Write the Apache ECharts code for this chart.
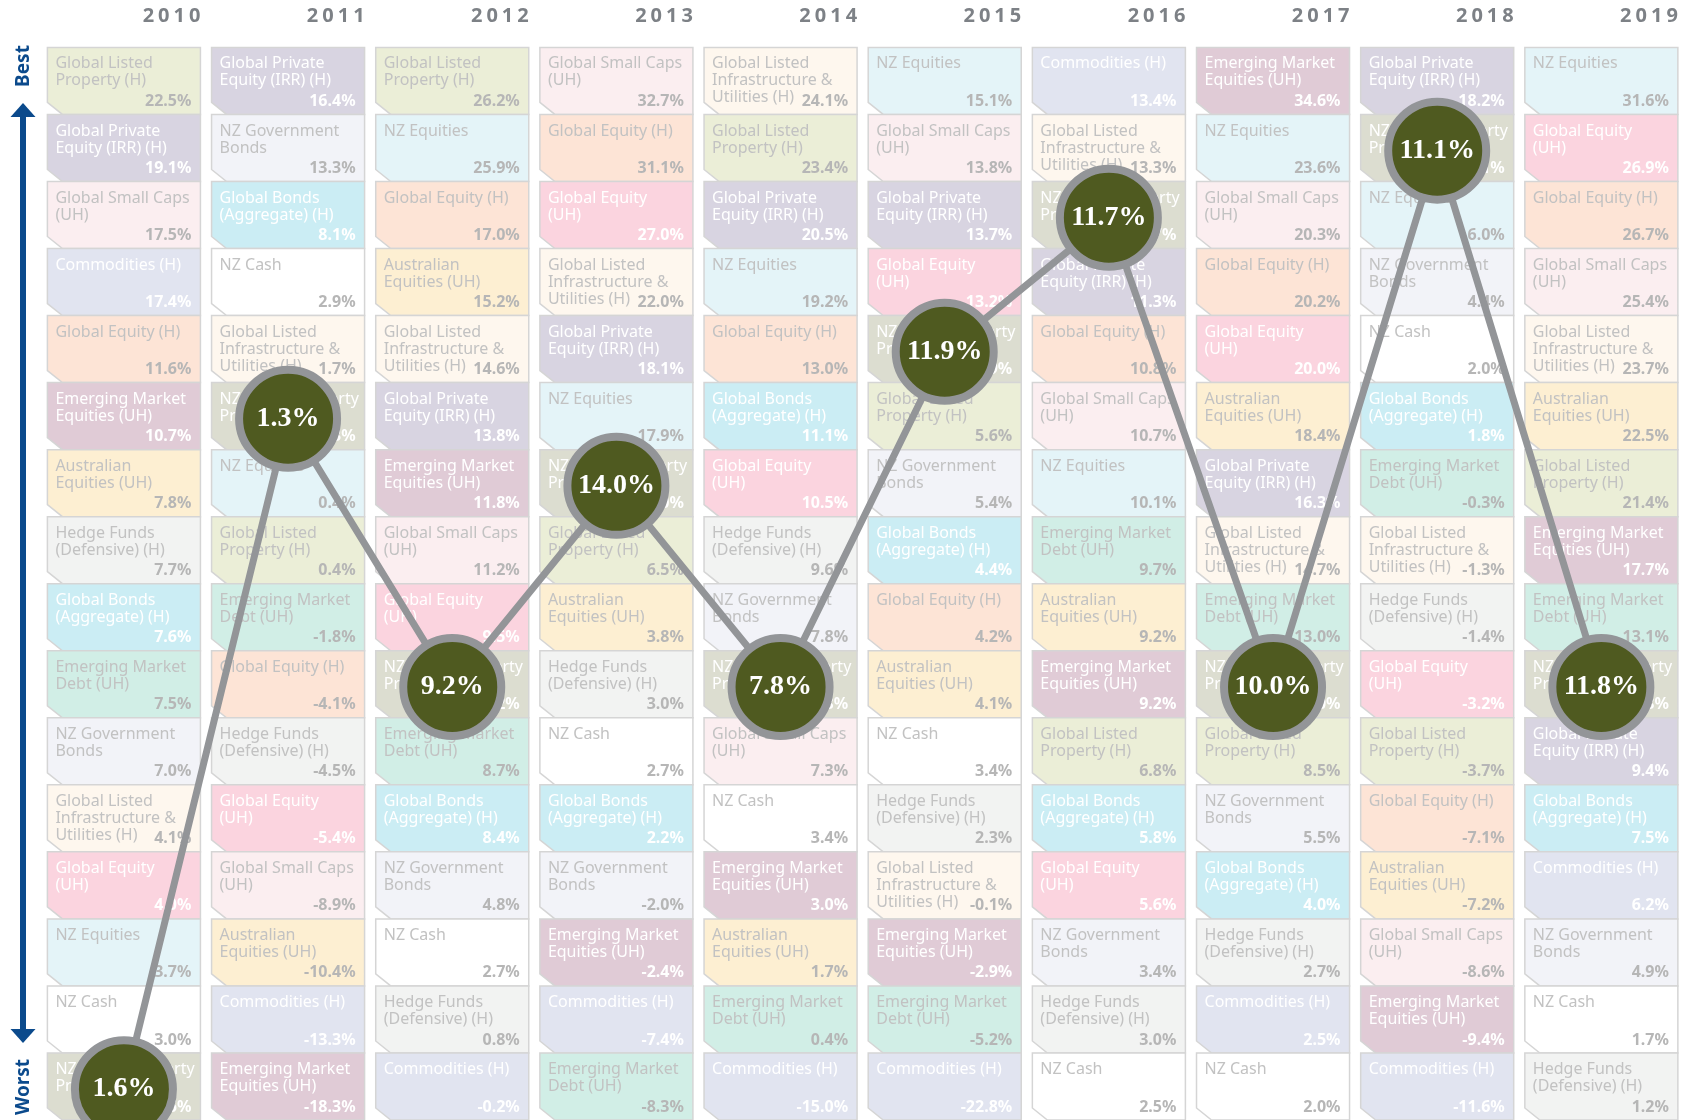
<!DOCTYPE html>
<html>
<head>
<meta charset="utf-8">
<script src="https://cdn.jsdelivr.net/npm/echarts@6/dist/echarts.min.js"></script>
<style>
html,body{margin:0;padding:0;background:#ffffff;}
#chart{width:1689px;height:1120px;}
</style>
</head>
<body>
<div id="chart"></div>
<script>
// ---------------- DATA ----------------
const years = ['2010','2011','2012','2013','2014','2015','2016','2017','2018','2019'];
const PROP = 'NZ Direct Property';

const r2010 = [
  ['Global Listed Property (H)', 22.5],
  ['Global Private Equity (IRR) (H)', 19.1],
  ['Global Small Caps (UH)', 17.5],
  ['Commodities (H)', 17.4],
  ['Global Equity (H)', 11.6],
  ['Emerging Market Equities (UH)', 10.7],
  ['Australian Equities (UH)', 7.8],
  ['Hedge Funds (Defensive) (H)', 7.7],
  ['Global Bonds (Aggregate) (H)', 7.6],
  ['Emerging Market Debt (UH)', 7.5],
  ['NZ Government Bonds', 7.0],
  ['Global Listed Infrastructure & Utilities (H)', 4.1],
  ['Global Equity (UH)', 4.0],
  ['NZ Equities', 3.7],
  ['NZ Cash', 3.0],
  [PROP, 1.6]
];
const r2011 = [
  ['Global Private Equity (IRR) (H)', 16.4],
  ['NZ Government Bonds', 13.3],
  ['Global Bonds (Aggregate) (H)', 8.1],
  ['NZ Cash', 2.9],
  ['Global Listed Infrastructure & Utilities (H)', 1.7],
  [PROP, 1.3],
  ['NZ Equities', 0.4],
  ['Global Listed Property (H)', 0.4],
  ['Emerging Market Debt (UH)', -1.8],
  ['Global Equity (H)', -4.1],
  ['Hedge Funds (Defensive) (H)', -4.5],
  ['Global Equity (UH)', -5.4],
  ['Global Small Caps (UH)', -8.9],
  ['Australian Equities (UH)', -10.4],
  ['Commodities (H)', -13.3],
  ['Emerging Market Equities (UH)', -18.3]
];
const r2012 = [
  ['Global Listed Property (H)', 26.2],
  ['NZ Equities', 25.9],
  ['Global Equity (H)', 17.0],
  ['Australian Equities (UH)', 15.2],
  ['Global Listed Infrastructure & Utilities (H)', 14.6],
  ['Global Private Equity (IRR) (H)', 13.8],
  ['Emerging Market Equities (UH)', 11.8],
  ['Global Small Caps (UH)', 11.2],
  ['Global Equity (UH)', 9.5],
  [PROP, 9.2],
  ['Emerging Market Debt (UH)', 8.7],
  ['Global Bonds (Aggregate) (H)', 8.4],
  ['NZ Government Bonds', 4.8],
  ['NZ Cash', 2.7],
  ['Hedge Funds (Defensive) (H)', 0.8],
  ['Commodities (H)', -0.2]
];
const r2013 = [
  ['Global Small Caps (UH)', 32.7],
  ['Global Equity (H)', 31.1],
  ['Global Equity (UH)', 27.0],
  ['Global Listed Infrastructure & Utilities (H)', 22.0],
  ['Global Private Equity (IRR) (H)', 18.1],
  ['NZ Equities', 17.9],
  [PROP, 14.0],
  ['Global Listed Property (H)', 6.5],
  ['Australian Equities (UH)', 3.8],
  ['Hedge Funds (Defensive) (H)', 3.0],
  ['NZ Cash', 2.7],
  ['Global Bonds (Aggregate) (H)', 2.2],
  ['NZ Government Bonds', -2.0],
  ['Emerging Market Equities (UH)', -2.4],
  ['Commodities (H)', -7.4],
  ['Emerging Market Debt (UH)', -8.3]
];
const r2014 = [
  ['Global Listed Infrastructure & Utilities (H)', 24.1],
  ['Global Listed Property (H)', 23.4],
  ['Global Private Equity (IRR) (H)', 20.5],
  ['NZ Equities', 19.2],
  ['Global Equity (H)', 13.0],
  ['Global Bonds (Aggregate) (H)', 11.1],
  ['Global Equity (UH)', 10.5],
  ['Hedge Funds (Defensive) (H)', 9.6],
  ['NZ Government Bonds', 7.8],
  [PROP, 7.8],
  ['Global Small Caps (UH)', 7.3],
  ['NZ Cash', 3.4],
  ['Emerging Market Equities (UH)', 3.0],
  ['Australian Equities (UH)', 1.7],
  ['Emerging Market Debt (UH)', 0.4],
  ['Commodities (H)', -15.0]
];
const r2015 = [
  ['NZ Equities', 15.1],
  ['Global Small Caps (UH)', 13.8],
  ['Global Private Equity (IRR) (H)', 13.7],
  ['Global Equity (UH)', 13.2],
  [PROP, 11.9],
  ['Global Listed Property (H)', 5.6],
  ['NZ Government Bonds', 5.4],
  ['Global Bonds (Aggregate) (H)', 4.4],
  ['Global Equity (H)', 4.2],
  ['Australian Equities (UH)', 4.1],
  ['NZ Cash', 3.4],
  ['Hedge Funds (Defensive) (H)', 2.3],
  ['Global Listed Infrastructure & Utilities (H)', -0.1],
  ['Emerging Market Equities (UH)', -2.9],
  ['Emerging Market Debt (UH)', -5.2],
  ['Commodities (H)', -22.8]
];
const r2016 = [
  ['Commodities (H)', 13.4],
  ['Global Listed Infrastructure & Utilities (H)', 13.3],
  [PROP, 11.7],
  ['Global Private Equity (IRR) (H)', 11.3],
  ['Global Equity (H)', 10.8],
  ['Global Small Caps (UH)', 10.7],
  ['NZ Equities', 10.1],
  ['Emerging Market Debt (UH)', 9.7],
  ['Australian Equities (UH)', 9.2],
  ['Emerging Market Equities (UH)', 9.2],
  ['Global Listed Property (H)', 6.8],
  ['Global Bonds (Aggregate) (H)', 5.8],
  ['Global Equity (UH)', 5.6],
  ['NZ Government Bonds', 3.4],
  ['Hedge Funds (Defensive) (H)', 3.0],
  ['NZ Cash', 2.5]
];
const r2017 = [
  ['Emerging Market Equities (UH)', 34.6],
  ['NZ Equities', 23.6],
  ['Global Small Caps (UH)', 20.3],
  ['Global Equity (H)', 20.2],
  ['Global Equity (UH)', 20.0],
  ['Australian Equities (UH)', 18.4],
  ['Global Private Equity (IRR) (H)', 16.3],
  ['Global Listed Infrastructure & Utilities (H)', 14.7],
  ['Emerging Market Debt (UH)', 13.0],
  [PROP, 10.0],
  ['Global Listed Property (H)', 8.5],
  ['NZ Government Bonds', 5.5],
  ['Global Bonds (Aggregate) (H)', 4.0],
  ['Hedge Funds (Defensive) (H)', 2.7],
  ['Commodities (H)', 2.5],
  ['NZ Cash', 2.0]
];
const r2018 = [
  ['Global Private Equity (IRR) (H)', 18.2],
  [PROP, 11.1],
  ['NZ Equities', 6.0],
  ['NZ Government Bonds', 4.4],
  ['NZ Cash', 2.0],
  ['Global Bonds (Aggregate) (H)', 1.8],
  ['Emerging Market Debt (UH)', -0.3],
  ['Global Listed Infrastructure & Utilities (H)', -1.3],
  ['Hedge Funds (Defensive) (H)', -1.4],
  ['Global Equity (UH)', -3.2],
  ['Global Listed Property (H)', -3.7],
  ['Global Equity (H)', -7.1],
  ['Australian Equities (UH)', -7.2],
  ['Global Small Caps (UH)', -8.6],
  ['Emerging Market Equities (UH)', -9.4],
  ['Commodities (H)', -11.6]
];
const r2019 = [
  ['NZ Equities', 31.6],
  ['Global Equity (UH)', 26.9],
  ['Global Equity (H)', 26.7],
  ['Global Small Caps (UH)', 25.4],
  ['Global Listed Infrastructure & Utilities (H)', 23.7],
  ['Australian Equities (UH)', 22.5],
  ['Global Listed Property (H)', 21.4],
  ['Emerging Market Equities (UH)', 17.7],
  ['Emerging Market Debt (UH)', 13.1],
  [PROP, 11.8],
  ['Global Private Equity (IRR) (H)', 9.4],
  ['Global Bonds (Aggregate) (H)', 7.5],
  ['Commodities (H)', 6.2],
  ['NZ Government Bonds', 4.9],
  ['NZ Cash', 1.7],
  ['Hedge Funds (Defensive) (H)', 1.2]
];
const yearRanks = [r2010, r2011, r2012, r2013, r2014, r2015, r2016, r2017, r2018, r2019];

// ---------------- LABELS & STYLES ----------------
const labelText = {
  'Global Listed Property (H)': 'Global Listed\nProperty (H)',
  'Global Private Equity (IRR) (H)': 'Global Private\nEquity (IRR) (H)',
  'Global Small Caps (UH)': 'Global Small Caps\n(UH)',
  'Commodities (H)': 'Commodities (H)',
  'Global Equity (H)': 'Global Equity (H)',
  'Emerging Market Equities (UH)': 'Emerging Market\nEquities (UH)',
  'Australian Equities (UH)': 'Australian\nEquities (UH)',
  'Hedge Funds (Defensive) (H)': 'Hedge Funds\n(Defensive) (H)',
  'Global Bonds (Aggregate) (H)': 'Global Bonds\n(Aggregate) (H)',
  'Emerging Market Debt (UH)': 'Emerging Market\nDebt (UH)',
  'NZ Government Bonds': 'NZ Government\nBonds',
  'Global Listed Infrastructure & Utilities (H)': 'Global Listed\nInfrastructure &\nUtilities (H)',
  'Global Equity (UH)': 'Global Equity\n(UH)',
  'NZ Equities': 'NZ Equities',
  'NZ Cash': 'NZ Cash',
  'NZ Direct Property': 'NZ Direct Property\nPrivate'
};
const GREY = 'g', WHITE = 'w';
const cellStyle = {
  'Global Listed Property (H)': ['#ebeed7', GREY],
  'Global Private Equity (IRR) (H)': ['#d8d4e1', WHITE],
  'Global Small Caps (UH)': ['#fbeef0', GREY],
  'Commodities (H)': ['#e1e4f0', WHITE],
  'Global Equity (H)': ['#fde4d6', GREY],
  'Emerging Market Equities (UH)': ['#e0cbd6', WHITE],
  'Australian Equities (UH)': ['#fdefd2', GREY],
  'Hedge Funds (Defensive) (H)': ['#f2f3f2', GREY],
  'Global Bonds (Aggregate) (H)': ['#cbedf4', WHITE],
  'Emerging Market Debt (UH)': ['#d1eee6', GREY],
  'NZ Government Bonds': ['#f2f3f8', GREY],
  'Global Listed Infrastructure & Utilities (H)': ['#fef7ee', GREY],
  'Global Equity (UH)': ['#fbd4df', WHITE],
  'NZ Equities': ['#e4f4f8', GREY],
  'NZ Cash': ['#ffffff', GREY],
  'NZ Direct Property': ['#dcddd0', WHITE]
};
const CW = 154 / 165.2;   // cell width as fraction of column pitch
const CIRCLE_DY = 0.54;   // circle centre within its row

// letter-spaced year headings (only the 4-digit year strings)
(function(){
  const orig = CanvasRenderingContext2D.prototype.fillText;
  CanvasRenderingContext2D.prototype.fillText = function(t){
    if (typeof t === 'string' && /^20\d\d$/.test(t) && 'letterSpacing' in this) {
      this.letterSpacing = '4px';
      const r = orig.apply(this, arguments);
      this.letterSpacing = '0px';
      const f = this.font; this.font = 'bold 10px serif'; this.font = f;
      return r;
    }
    return orig.apply(this, arguments);
  };
})();

// ---------------- BUILD ----------------
const cells = [];
const propPts = [];
yearRanks.forEach((list, ci) => {
  list.forEach((item, ri) => {
    cells.push({ value: [ci, ri + 1, item[1]], name: item[0] });
    if (item[0] === PROP) propPts.push([ci + CW / 2, ri + CIRCLE_DY, item[1]]);
  });
});

function renderCell(params, api) {
  const col = api.value(0), rank = api.value(1), v = api.value(2);
  const name = cells[params.dataIndex].name;
  const tl = api.coord([col, rank - 1]);
  const br = api.coord([col + CW, rank]);
  const L = tl[0], T = tl[1], R = br[0], B = br[1];
  const st = cellStyle[name];
  const isW = st[1] === WHITE;
  return {
    type: 'group',
    children: [
      { type: 'polygon', shape: { points: [[L, T], [R, T], [R, B], [L + 15, B], [L, B - 12]] },
        style: { fill: st[0], stroke: '#d5d5d5', lineWidth: 1.5 } },
      { type: 'text', x: L + 8, y: T + 8,
        style: { text: labelText[name], fill: isW ? '#ffffff' : '#c2c2c2', fontSize: 16, lineHeight: 17,
                 fontFamily: 'Noto Sans', align: 'left', verticalAlign: 'top' } },
      { type: 'text', x: R - 9, y: B - 5,
        style: { text: v.toFixed(1) + '%', fill: isW ? '#ffffff' : '#b6b6b6', fontSize: 16, fontWeight: 'bold',
                 fontFamily: 'Noto Sans', align: 'right', verticalAlign: 'bottom' } }
    ]
  };
}

function renderYear(params, api) {
  const i = api.value(0);
  const p = api.coord([i + CW, 0]);
  return { type: 'text', x: p[0] + 4, y: p[1] - 31,
    style: { text: years[i], fill: '#7d8186', fontSize: 20, fontWeight: 'bold', fontFamily: 'Noto Sans',
             align: 'right', verticalAlign: 'middle' } };
}

const BLUE = '#0b4a8c';
const chart = echarts.init(document.getElementById('chart'), null, { renderer: 'canvas' });
chart.setOption({
  animation: false,
  backgroundColor: '#ffffff',
  grid: { left: 47.4, top: 47.4, width: 1652, height: 1075, containLabel: false },
  xAxis: { type: 'value', min: 0, max: 10, show: false },
  yAxis: { type: 'value', min: 0, max: 16, inverse: true, show: false },
  graphic: [
    { type: 'rect', shape: { x: 20, y: 115, width: 6, height: 916 }, style: { fill: BLUE } },
    { type: 'polygon', shape: { points: [[23, 103], [35.5, 117], [10.5, 117]] }, style: { fill: BLUE } },
    { type: 'polygon', shape: { points: [[23, 1043], [35.5, 1029], [10.5, 1029]] }, style: { fill: BLUE } },
    { type: 'text', x: 24, y: 66, rotation: Math.PI / 2,
      style: { text: 'Best', fill: BLUE, fontSize: 19, fontWeight: 'bold', fontFamily: 'Noto Sans', align: 'center', verticalAlign: 'middle' } },
    { type: 'text', x: 24, y: 1087, rotation: Math.PI / 2,
      style: { text: 'Worst', fill: BLUE, fontSize: 19, fontWeight: 'bold', fontFamily: 'Noto Sans', align: 'center', verticalAlign: 'middle' } }
  ],
  series: [
    { type: 'custom', name: 'cells', renderItem: renderCell, data: cells, z: 1, silent: true, clip: false },
    { type: 'custom', name: 'years', renderItem: renderYear, data: years.map((y, i) => [i]), zlevel: 1, z: 1, silent: true, clip: false },
    { type: 'line', name: 'path', data: propPts.map(p => [p[0], p[1]]), showSymbol: false, symbol: 'none',
      lineStyle: { color: '#939598', width: 7 }, z: 3, silent: true, clip: false },
    { type: 'scatter', name: 'prop', data: propPts, symbol: 'circle', symbolSize: 98, z: 4, silent: true, clip: false,
      itemStyle: { color: '#4f5a20', borderColor: '#939598', borderWidth: 8, opacity: 1 },
      label: { show: true, position: 'inside', formatter: p => p.value[2].toFixed(1) + '%',
               color: '#ffffff', fontSize: 28, fontWeight: 'bold', fontFamily: 'Liberation Serif' } }
  ]
});
</script>
</body>
</html>
